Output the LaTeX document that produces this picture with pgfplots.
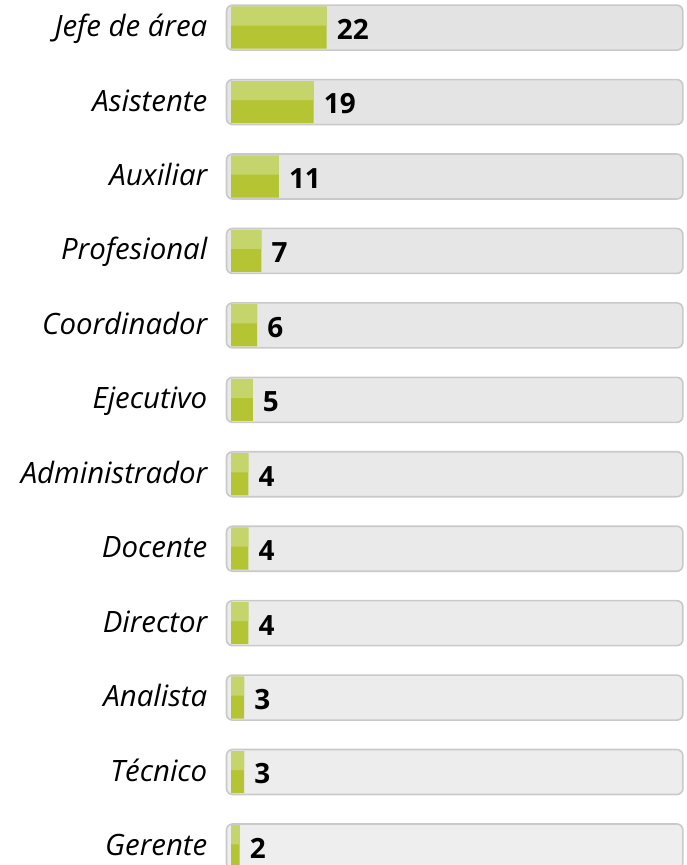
\documentclass[border=0pt]{standalone}
\usepackage{pgfplots}
\pgfplotsset{compat=1.18}
\usepackage{fontspec}
\setmainfont{Open Sans}
\definecolor{bgtop}{HTML}{E3E3E3}
\definecolor{bgbot}{HTML}{EEEEEE}
\definecolor{bgedge}{HTML}{C9C9C9}
\definecolor{gdark}{HTML}{B5C433}
\definecolor{glight}{HTML}{C6D46C}
\pgfplotstableread{
idx val
0 22
1 19
2 11
3 7
4 6
5 5
6 4
7 4
8 4
9 3
10 3
11 2
}\datatable
\pgfplotstableread[col sep=comma]{
idx,pos,tot,name
0,0,104.9,Jefe de área
1,0,104.9,Asistente
2,0,104.9,Auxiliar
3,0,104.9,Profesional
4,0,104.9,Coordinador
5,0,104.9,Ejecutivo
6,0,104.9,Administrador
7,0,104.9,Docente
8,0,104.9,Director
9,0,104.9,Analista
10,0,104.9,Técnico
11,0,104.9,Gerente
}\bgtable
\begin{document}
\begin{tikzpicture}
\begin{axis}[
  scale only axis, width=687bp, height=865bp,
  xmin=-52.07, xmax=105.86,
  ymin=-0.371, ymax=11.249, y dir=reverse,
  hide axis, clip=false,
  /pgf/number format/assume math mode=true,
]
\addplot[xbar, bar width=45bp, top color=bgtop, bottom color=bgbot, draw=bgedge, line width=1.6bp, rounded corners=6bp] table[x=tot,y=idx]{\bgtable};
\addplot[xbar, bar width=42bp, bar shift=0pt, xshift=4.5bp, fill=gdark, draw=none,
  nodes near coords, nodes near coords align={horizontal},
  every node near coord/.append style={anchor=west, inner sep=0pt, xshift=10bp, yshift=-2bp, text=black, font=\fontsize{28}{30}\selectfont\bfseries}
] table[x=val,y=idx]{\datatable};
\addplot[xbar, bar width=19bp, bar shift=0pt, yshift=11.5bp, xshift=4.5bp, fill=glight, draw=none] table[x=val,y=idx]{\datatable};
\addplot[only marks, mark=none, point meta=explicit symbolic,
  nodes near coords,
  every node near coord/.append style={anchor=base east, inner sep=0pt, xshift=-19bp, yshift=-9bp, text=black, font=\fontsize{29.5}{32}\selectfont\itshape}
] table[x=pos,y=idx,meta=name,col sep=comma]{\bgtable};
\end{axis}
\pgfresetboundingbox
\path[use as bounding box] (current axis.south west) rectangle (current axis.north east);
\end{tikzpicture}
\end{document}
